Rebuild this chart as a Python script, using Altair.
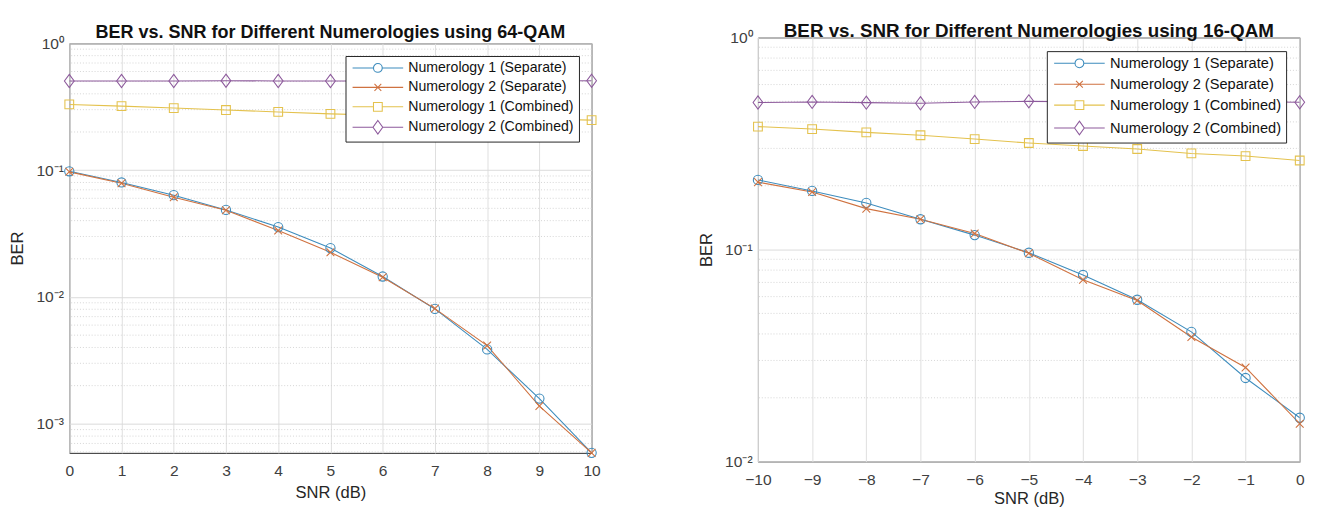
import altair as alt
import pandas as pd

# ---------------- data ----------------
series_names = [
    "Numerology 1 (Separate)",
    "Numerology 2 (Separate)",
    "Numerology 1 (Combined)",
    "Numerology 2 (Combined)",
]
series_colors = ["#3d8cbd", "#cf7240", "#e4c24e", "#8d5a9c"]

snr_64 = [0, 1, 2, 3, 4, 5, 6, 7, 8, 9, 10]
ber64_n1_sep = [0.098, 0.080, 0.0635, 0.0486, 0.0356, 0.0243, 0.0145, 0.00805, 0.00386, 0.00158, 0.00059]
ber64_n2_sep = [0.097, 0.079, 0.0612, 0.0483, 0.0335, 0.0225, 0.0143, 0.0081, 0.00414, 0.00138, 0.00059]
ber64_n1_comb = [0.330, 0.320, 0.309, 0.298, 0.288, 0.278, 0.271, 0.265, 0.259, 0.253, 0.248]
ber64_n2_comb = [0.505, 0.505, 0.505, 0.508, 0.505, 0.505, 0.505, 0.505, 0.505, 0.505, 0.507]

snr_16 = [-10, -9, -8, -7, -6, -5, -4, -3, -2, -1, 0]
ber16_n1_sep = [0.213, 0.189, 0.166, 0.139, 0.117, 0.0966, 0.0759, 0.058, 0.0409, 0.0248, 0.0161]
ber16_n2_sep = [0.208, 0.187, 0.156, 0.139, 0.119, 0.096, 0.072, 0.0575, 0.0387, 0.0278, 0.0151]
ber16_n1_comb = [0.380, 0.370, 0.357, 0.346, 0.332, 0.318, 0.308, 0.298, 0.284, 0.276, 0.263]
ber16_n2_comb = [0.494, 0.497, 0.493, 0.490, 0.497, 0.500, 0.498, 0.497, 0.497, 0.497, 0.495]

title_64 = "BER vs. SNR for Different Numerologies using 64-QAM"
title_16 = "BER vs. SNR for Different Numerologies using 16-QAM"
x_title = "SNR (dB)"
y_title = "BER"

y_tick_values = [1, 0.1, 0.01, 0.001]
y_tick_labels = ["10\u2070", "10\u207b\u00b9", "10\u207b\u00b2", "10\u207b\u00b3"]

FONT = "Liberation Sans"

# marker shapes (chart) and legend symbols (line + marker)
marker_paths = [
    "M0.95,0A0.95,0.95,0,1,1,-0.95,0A0.95,0.95,0,1,1,0.95,0",
    "M-0.8,-0.8L0.8,0.8M-0.8,0.8L0.8,-0.8",
    "M-0.9,-0.9L0.9,-0.9L0.9,0.9L-0.9,0.9Z",
    "M0,-1.35L1,0L0,1.35L-1,0Z",
]
legend_paths = [
    "M-1,0L3.3,0M5.1,0L9.4,0M5.1,0A0.9,0.9,0,1,1,3.3,0A0.9,0.9,0,1,1,5.1,0",
    "M-1,0L9.4,0M3.5,-0.7L4.9,0.7M3.5,0.7L4.9,-0.7",
    "M-1,0L3.3,0M5.1,0L9.4,0M3.3,-0.9L5.1,-0.9L5.1,0.9L3.3,0.9Z",
    "M-1,0L3.2,0M5.2,0L9.4,0M4.2,-1.4L5.2,0L4.2,1.4L3.2,0Z",
]

label_expr = "[" + ",".join("'%s'" % s for s in y_tick_labels) + "][round(-log(datum.value)/log(10))]"


def minor_values(lo, hi):
    vals = []
    dec = 1e-4
    while dec < hi:
        for m in range(2, 10):
            v = m * dec
            if lo < v < hi:
                vals.append(v)
        dec *= 10
    return vals


def panel(snr, ys, title, width, height, y_lo, x_dom, title_size, title_offset,
          legend_offset, legend_font, legend_row, x_label_pad, x_title_pad):
    rows = []
    for i, name in enumerate(series_names):
        for s, b in zip(snr, ys[i]):
            rows.append({"snr": s, "ber": b, "series": name, "order": i})
    df = pd.DataFrame(rows)

    yscale = alt.Scale(type="log", domain=[y_lo, 1], nice=False)
    xscale = alt.Scale(domain=x_dom, nice=False, zero=False)
    cscale = alt.Scale(domain=series_names, range=series_colors)

    x_axis = alt.Axis(values=snr, title=x_title, grid=True, gridColor="#dedede",
                      ticks=False, domain=False, labelFontSize=16, labelColor="#404040",
                      labelFont=FONT, labelPadding=x_label_pad, titleFont=FONT, titleFontSize=17,
                      titleFontWeight="normal", titleColor="#262626", titlePadding=x_title_pad,
                      labelFlush=False)
    y_axis = alt.Axis(values=y_tick_values, labelExpr=label_expr, title=y_title, grid=True,
                      gridColor="#dadada", ticks=False, domain=False, labelFontSize=16,
                      labelColor="#404040", labelFont=FONT, labelPadding=6, titleFont=FONT,
                      titleFontSize=17, titleFontWeight="normal", titleColor="#262626",
                      titlePadding=10, labelFlush=False)

    X = alt.X("snr:Q", scale=xscale, axis=x_axis)
    Y = alt.Y("ber:Q", scale=yscale, axis=y_axis)

    minor = alt.Chart(pd.DataFrame({"v": minor_values(y_lo, 1)})).mark_rule(
        color="#d4d4d4", strokeDash=[1, 2], strokeWidth=1
    ).encode(y=alt.Y("v:Q", scale=yscale, axis=y_axis))

    lines = alt.Chart(df).mark_line(strokeWidth=1.1, clip=True).encode(
        x=X, y=Y,
        color=alt.Color("series:N", scale=cscale, legend=None),
        order=alt.Order("snr:Q"),
    )

    points = alt.Chart(df).mark_point(filled=False, size=100, strokeWidth=1.1, opacity=1).encode(
        x=X, y=Y,
        color=alt.Color("series:N", scale=cscale, legend=None),
        shape=alt.Shape("series:N", scale=alt.Scale(domain=series_names, range=marker_paths), legend=None),
    )

    leg = alt.Legend(title=None, orient="top-right", offset=legend_offset, fillColor="white",
                     strokeColor="#222222", padding=5, labelFont=FONT, labelFontSize=legend_font,
                     labelColor="#111111", symbolSize=100, symbolStrokeWidth=1.1,
                     symbolOpacity=1, labelOffset=45, rowPadding=legend_row, cornerRadius=0,
                     symbolFillColor="transparent", labelLimit=400)
    legend_layer = alt.Chart(df).mark_point(filled=False, opacity=0).encode(
        x=X, y=Y,
        color=alt.Color("series:N", scale=cscale, legend=leg),
        shape=alt.Shape("series:N", scale=alt.Scale(domain=series_names, range=legend_paths), legend=leg),
    )

    return alt.layer(minor, lines, points, legend_layer).resolve_scale(
        color="independent", shape="independent"
    ).properties(
        width=width, height=height,
        title=alt.TitleParams(title, font=FONT, fontSize=title_size, fontWeight="bold",
                              color="#111111", offset=title_offset, anchor="middle"),
    )


left = panel(snr_64, [ber64_n1_sep, ber64_n2_sep, ber64_n1_comb, ber64_n2_comb],
             title_64, 537, 421, 0.00059, [0, 10], 18.5, -6, 13, 14.5, 5, 10, 7)
right = panel(snr_16, [ber16_n1_sep, ber16_n2_sep, ber16_n1_comb, ber16_n2_comb],
              title_16, 557, 436, 0.01, [-10, 0], 19.3, -12, 14, 15, 5.5, 11, 3)

chart = alt.hconcat(left, right, spacing=81, center=True).properties(
    padding={"left": 0, "top": 7, "right": 0, "bottom": 0}
).configure(background="white").configure_view(stroke="#262626", strokeWidth=1)

chart.save("out.html", embed_options={"renderer": "svg", "actions": False})
